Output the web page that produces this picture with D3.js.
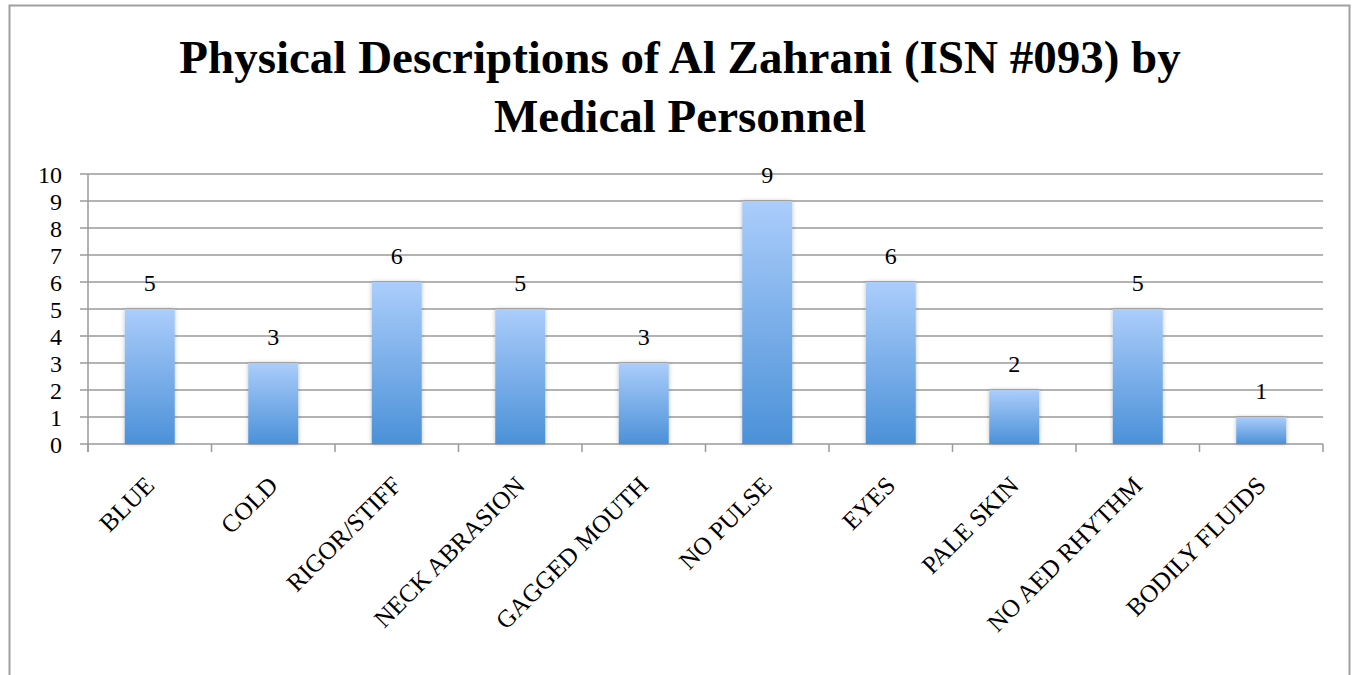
<!DOCTYPE html>
<html>
<head>
<meta charset="utf-8">
<script src="https://cdn.jsdelivr.net/npm/d3@7"></script>
</head>
<body style="margin:0; background:#fff">
<div id="chart-container"></div>
<script>
// Chart data
const categories = ["BLUE", "COLD", "RIGOR/STIFF", "NECK ABRASION", "GAGGED MOUTH",
  "NO PULSE", "EYES", "PALE SKIN", "NO AED RHYTHM", "BODILY FLUIDS"];
const counts = [5, 3, 6, 5, 3, 9, 6, 2, 5, 1];
const yTicks = [0, 1, 2, 3, 4, 5, 6, 7, 8, 9, 10];
const titleLines = ["Physical Descriptions of Al Zahrani (ISN #093) by", "Medical Personnel"];

const width = 1355, height = 675;
const plotLeft = 88, plotRight = 1323, plotTop = 174, plotBottom = 444;
const serif = '"Liberation Serif"';

const svg = d3.select("#chart-container")
  .append("svg")
  .attr("width", width)
  .attr("height", height)
  .style("font-family", serif);

// outer frame
svg.append("rect")
  .attr("x", 9.5).attr("y", 5.5)
  .attr("width", 1340).attr("height", 700)
  .attr("fill", "#fff")
  .attr("stroke", "#a0a0a0")
  .attr("stroke-width", 2);

const defs = svg.append("defs");
const grad = defs.append("linearGradient")
  .attr("id", "barGrad")
  .attr("x1", 0).attr("y1", 0).attr("x2", 0).attr("y2", 1);
grad.append("stop").attr("offset", "0%").attr("stop-color", "#abcdfb");
grad.append("stop").attr("offset", "100%").attr("stop-color", "#4b91d8");

const shadow = defs.append("filter").attr("id", "shadow")
  .attr("x", "-20%").attr("y", "-10%").attr("width", "140%").attr("height", "120%");
shadow.append("feDropShadow")
  .attr("dx", 0).attr("dy", 0).attr("stdDeviation", 2)
  .attr("flood-color", "#000").attr("flood-opacity", 0.25);

// Title
svg.append("text")
  .attr("text-anchor", "middle")
  .style("font-family", serif)
  .style("font-size", "47px")
  .style("font-weight", "bold")
  .selectAll("tspan")
  .data(titleLines)
  .enter()
  .append("tspan")
  .attr("x", 680)
  .attr("y", (d, i) => 73 + i * 59)
  .text(d => d);

const xScale = d3.scaleBand()
  .domain(categories)
  .range([plotLeft, plotRight])
  .paddingInner(0.595)
  .paddingOuter(0.2975);

const yScale = d3.scaleLinear()
  .domain([0, 10])
  .range([plotBottom, plotTop]);

// gridlines
svg.append("g")
  .selectAll("line")
  .data(yTicks)
  .enter()
  .append("line")
  .attr("x1", plotLeft - 8)
  .attr("x2", plotRight)
  .attr("y1", d => yScale(d))
  .attr("y2", d => yScale(d))
  .attr("stroke", "#9a9a9a")
  .attr("stroke-width", 1.5);

// y axis
const yAxis = d3.axisLeft(yScale)
  .tickValues(yTicks)
  .tickSize(0)
  .tickPadding(26)
  .tickFormat(d3.format("d"));

const yG = svg.append("g")
  .attr("transform", `translate(${plotLeft},0)`)
  .call(yAxis);
yG.select(".domain").remove();
yG.selectAll("text")
  .style("font-family", serif)
  .style("font-size", "24px")
  .attr("fill", "#000")
  .attr("dy", "0.34em");

svg.append("line")
  .attr("x1", plotLeft).attr("x2", plotLeft)
  .attr("y1", plotTop).attr("y2", plotBottom + 8)
  .attr("stroke", "#9a9a9a")
  .attr("stroke-width", 1.5);

// x ticks at category boundaries
const step = xScale.step();
const boundaries = d3.range(categories.length + 1).map(i => plotLeft + i * step);
svg.append("g")
  .selectAll("line")
  .data(boundaries)
  .enter()
  .append("line")
  .attr("x1", d => d).attr("x2", d => d)
  .attr("y1", plotBottom).attr("y2", plotBottom + 8)
  .attr("stroke", "#9a9a9a")
  .attr("stroke-width", 1.5);

// bars
svg.append("g")
  .selectAll("rect")
  .data(counts)
  .enter()
  .append("rect")
  .attr("x", (d, i) => xScale(categories[i]))
  .attr("y", d => yScale(d))
  .attr("width", xScale.bandwidth())
  .attr("height", d => yScale(0) - yScale(d))
  .attr("fill", "url(#barGrad)")
  .attr("filter", "url(#shadow)");

// value labels
svg.append("g")
  .selectAll("text")
  .data(counts)
  .enter()
  .append("text")
  .attr("x", (d, i) => xScale(categories[i]) + xScale.bandwidth() / 2)
  .attr("y", d => yScale(d) - 18)
  .attr("text-anchor", "middle")
  .style("font-family", serif)
  .style("font-size", "24px")
  .text(d => d);

// category labels
svg.append("g")
  .selectAll("text")
  .data(categories)
  .enter()
  .append("text")
  .attr("transform", d => {
    const cx = xScale(d) + xScale.bandwidth() / 2 + 6;
    return `translate(${cx},${plotBottom + 43}) rotate(-45)`;
  })
  .attr("text-anchor", "end")
  .style("font-family", serif)
  .style("font-size", "25px")
  .text(d => d);
</script>
</body>
</html>
